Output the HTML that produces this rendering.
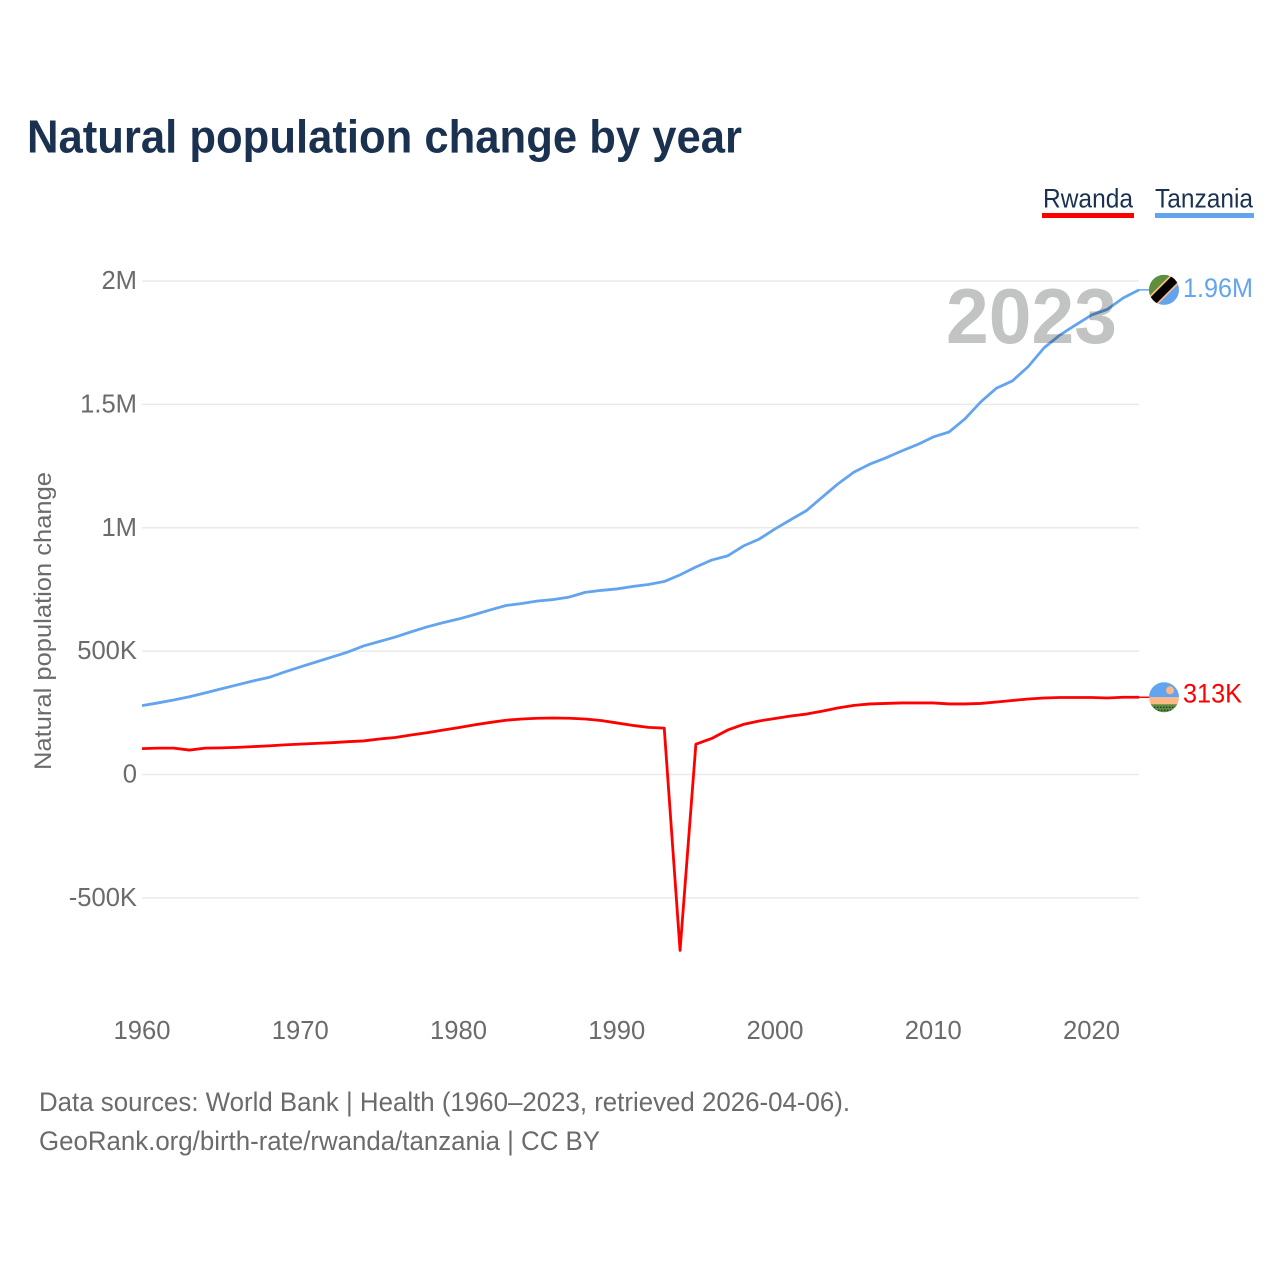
<!DOCTYPE html>
<html lang="en">
<head>
<meta charset="utf-8">
<title>Natural population change by year</title>
<style>
html,body{margin:0;padding:0;background:#fff;}
svg{display:block;font-family:"Liberation Sans",sans-serif;}
</style>
</head>
<body>
<svg id="chart" xmlns="http://www.w3.org/2000/svg" width="1280" height="1280" viewBox="0 0 1280 1280">
  <defs>
    <clipPath id="flag-clip-tz"><circle cx="0" cy="0" r="15"/></clipPath>
    <clipPath id="flag-clip-rw"><circle cx="0" cy="0" r="15"/></clipPath>
  </defs>
  <rect width="1280" height="1280" fill="#fff"/>
  <text x="27" y="152.5" font-size="46" font-weight="700" fill="#1a3150" textLength="715" lengthAdjust="spacingAndGlyphs">Natural population change by year</text>

  <g>
    <text x="1043" y="207.5" font-size="26.5" fill="#1a3150" textLength="90" lengthAdjust="spacingAndGlyphs">Rwanda</text>
    <rect x="1042" y="213" width="92" height="5" fill="#ff0000"/>
  </g>
  <g>
    <text x="1155" y="207.5" font-size="26.5" fill="#1a3150" textLength="98" lengthAdjust="spacingAndGlyphs">Tanzania</text>
    <rect x="1155" y="213" width="99" height="5" fill="#63a4ee"/>
  </g>

  <text transform="translate(51,621) rotate(-90)" text-anchor="middle" font-size="24.5" fill="#6b6b6b" textLength="298" lengthAdjust="spacingAndGlyphs">Natural population change</text>

  <g id="grid"></g>
  <g id="y-ticks"></g>
  <g id="x-ticks"></g>
  <g id="series"></g>

  <text x="946" y="343" font-size="78" font-weight="700" fill="#c2c4c4" textLength="171" lengthAdjust="spacingAndGlyphs" style="mix-blend-mode:multiply">2023</text>

  <g id="flag-tz">
    <g clip-path="url(#flag-clip-tz)">
      <rect x="-16" y="-16" width="32" height="32" fill="#63a4ee"/>
      <polygon points="-16,-16 16,-16 -16,16" fill="#5f8f3a"/>
      <line x1="-18" y1="18" x2="18" y2="-18" stroke="#fdb888" stroke-width="12"/>
      <line x1="-18" y1="18" x2="18" y2="-18" stroke="#000" stroke-width="8.5"/>
    </g>
  </g>
  <g id="flag-rw">
    <g clip-path="url(#flag-clip-rw)">
      <rect x="-16" y="-16" width="32" height="16" fill="#63a4ee"/>
      <rect x="-16" y="0" width="32" height="8" fill="#fdb888"/>
      <rect x="-16" y="7" width="32" height="9" fill="#5f8f3a"/>
      <line x1="-13" y1="10" x2="13" y2="10" stroke="#1a3150" stroke-width="1.2" stroke-dasharray="1.5 1.5"/>
      <line x1="-9" y1="13" x2="9" y2="13" stroke="#1a3150" stroke-width="1.2" stroke-dasharray="1.5 1.5"/>
      <circle cx="6" cy="-7" r="4" fill="#fdb888"/>
    </g>
  </g>
  <text id="end-label-tz" x="1183" y="297" font-size="26.5" fill="#63a4ee" textLength="70" lengthAdjust="spacingAndGlyphs"></text>
  <text id="end-label-rw" x="1183" y="703" font-size="26.5" fill="#ff0000" textLength="59" lengthAdjust="spacingAndGlyphs"></text>

  <text x="39" y="1111" font-size="26.5" fill="#6b6b6b" textLength="811" lengthAdjust="spacingAndGlyphs">Data sources: World Bank | Health (1960–2023, retrieved 2026-04-06).</text>
  <text x="39" y="1150" font-size="26.5" fill="#6b6b6b" textLength="561" lengthAdjust="spacingAndGlyphs">GeoRank.org/birth-rate/rwanda/tanzania | CC BY</text>
</svg>
<script>
const startYear = 1960;
const xTickYears = [1960, 1970, 1980, 1990, 2000, 2010, 2020];
const yTickValues = [-500, 0, 500, 1000, 1500, 2000];
const yTickLabels = ["-500K", "0", "500K", "1M", "1.5M", "2M"];
const tanzaniaValues = [279,290,302,315,331,347,363,379,393,415,436,456,476,496,521,539,557,578,598,615,630,648,667,685,693,703,709,719,738,746,752,762,770,782,809,841,869,886,926,954,995,1033,1070,1125,1179,1226,1258,1283,1311,1337,1368,1388,1441,1510,1566,1595,1653,1729,1781,1822,1862,1885,1931,1964];
const rwandaValues = [105,107,107,99,107,108,110,113,116,120,123,126,129,133,136,144,150,160,169,180,190,201,211,220,225,228,229,228,225,219,209,199,191,188,-713,123,146,180,203,217,227,237,245,257,270,280,286,288,290,290,290,286,286,288,294,300,306,310,312,312,312,310,313,313];
const tanzaniaEndLabel = "1.96M";
const rwandaEndLabel = "313K";

const NS = "http://www.w3.org/2000/svg";
function xScale(year) { return 142 + (year - 1960) * 15.825; }
function yScale(k) { return 774.5 - k * 0.24675; }
function byId(id) { return document.getElementById(id); }

yTickValues.forEach(function (v, i) {
  const y = yScale(v);
  const line = document.createElementNS(NS, "line");
  line.setAttribute("x1", 142);
  line.setAttribute("x2", 1139);
  line.setAttribute("y1", y);
  line.setAttribute("y2", y);
  line.setAttribute("stroke", "#eaeaea");
  line.setAttribute("stroke-width", "1.5");
  
  
  byId("grid").appendChild(line);

  const t = document.createElementNS(NS, "text");
  t.setAttribute("x", 137);
  t.setAttribute("y", y + 8);
  t.setAttribute("text-anchor", "end");
  t.setAttribute("font-size", "25.6");
  t.setAttribute("fill", "#6b6b6b");
  t.textContent = yTickLabels[i];
  
  
  byId("y-ticks").appendChild(t);
});

xTickYears.forEach(function (yr) {
  const t = document.createElementNS(NS, "text");
  t.setAttribute("x", xScale(yr));
  t.setAttribute("y", 1039);
  t.setAttribute("text-anchor", "middle");
  t.setAttribute("font-size", "25.6");
  t.setAttribute("fill", "#6b6b6b");
  t.textContent = String(yr);
  
  
  byId("x-ticks").appendChild(t);
});

function pathFor(values) {
  return values.map(function (v, i) {
    return (i ? "L" : "M") + xScale(startYear + i).toFixed(2) + " " + yScale(v).toFixed(2);
  }).join(" ");
}

function lastY(values) { return yScale(values[values.length - 1]); }
function lastX(values) { return xScale(startYear + values.length - 1); }

const tzPath = document.createElementNS(NS, "path");
tzPath.setAttribute("d", pathFor(tanzaniaValues));
tzPath.setAttribute("fill", "none");
tzPath.setAttribute("stroke", "#63a4ee");
tzPath.setAttribute("stroke-width", "2.8");
tzPath.setAttribute("stroke-linejoin", "round");


byId("series").appendChild(tzPath);

const rwPath = document.createElementNS(NS, "path");
rwPath.setAttribute("d", pathFor(rwandaValues));
rwPath.setAttribute("fill", "none");
rwPath.setAttribute("stroke", "#ff0000");
rwPath.setAttribute("stroke-width", "2.8");
rwPath.setAttribute("stroke-linejoin", "round");


byId("series").appendChild(rwPath);

const tzStub = document.createElementNS(NS, "line");
tzStub.setAttribute("x1", lastX(tanzaniaValues));
tzStub.setAttribute("x2", 1150);
tzStub.setAttribute("y1", lastY(tanzaniaValues));
tzStub.setAttribute("y2", lastY(tanzaniaValues));
tzStub.setAttribute("stroke", "#63a4ee");
tzStub.setAttribute("stroke-width", "1.5");


byId("series").appendChild(tzStub);

const rwStub = document.createElementNS(NS, "line");
rwStub.setAttribute("x1", lastX(rwandaValues));
rwStub.setAttribute("x2", 1150);
rwStub.setAttribute("y1", lastY(rwandaValues));
rwStub.setAttribute("y2", lastY(rwandaValues));
rwStub.setAttribute("stroke", "#ff0000");
rwStub.setAttribute("stroke-width", "1.5");


byId("series").appendChild(rwStub);

byId("flag-tz").setAttribute("transform", "translate(1164," + lastY(tanzaniaValues) + ")");
byId("flag-rw").setAttribute("transform", "translate(1164," + lastY(rwandaValues) + ")");

const tzLabel = byId("end-label-tz");
tzLabel.textContent = tanzaniaEndLabel;
tzLabel.setAttribute("y", lastY(tanzaniaValues) + 7);
const rwLabel = byId("end-label-rw");
rwLabel.textContent = rwandaEndLabel;
rwLabel.setAttribute("y", lastY(rwandaValues) + 5);
</script>
</body>
</html>
